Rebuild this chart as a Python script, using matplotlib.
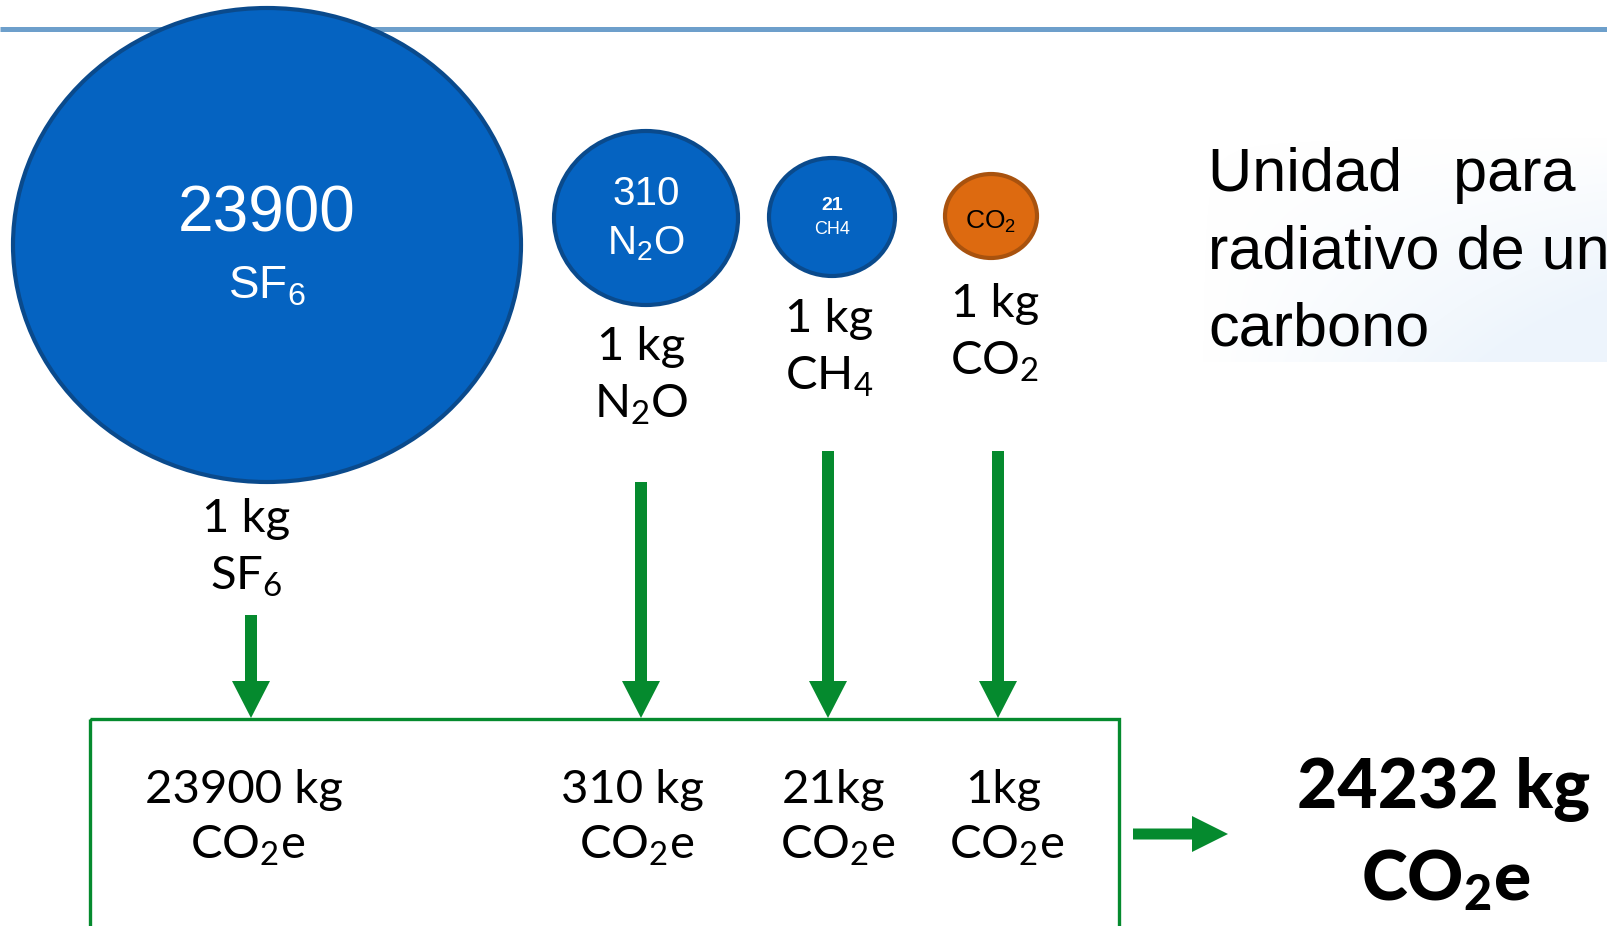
import matplotlib
matplotlib.use("Agg")
import matplotlib.pyplot as plt
from matplotlib.patches import Ellipse, Rectangle
import numpy as np

# ---------------- data ----------------
gases = ["SF$\\mathregular{_6}$", "N$\\mathregular{_2}$O", "CH$\\mathregular{_4}$", "CO$\\mathregular{_2}$"]
inner_gas = ["SF$\\mathregular{_6}$", "N$\\mathregular{_2}$O", "CH4", "CO$\\mathregular{_2}$"]
gwp = [23900, 310, 21, 1]
mass_kg = [1, 1, 1, 1]
co2e_labels = ["23900 kg", "310 kg", "21kg", "1kg"]
side_text = ["Unidad   para", "radiativo de un", "carbono"]

total = sum(g * m for g, m in zip(gwp, mass_kg))

# ---------------- layout (pixels) ----------------
W, H = 1608, 926
circ_cx = [267, 646, 832, 991]
circ_cy = [245, 218, 217, 216]
circ_rx = [254, 92, 63, 46]
circ_ry = [237, 87, 59, 42]
circ_fc = ["#0563c1", "#0563c1", "#0563c1", "#dd6a10"]
circ_ec = ["#0a4a8c", "#0a4a8c", "#0a4a8c", "#a8520e"]
num_y = [214, 194, 205, 220]
num_fs = [46, 29, 14, 0]
gas_y = [286, 244, 230, 222]
gas_fs = [33, 29, 13, 19]
gas_color = ["white", "white", "white", "black"]

kg_x = [246, 641, 829, 995]
kg_y = [523, 351, 323, 308]
arrow_x = [251, 641, 828, 998]
arrow_y0 = [615, 482, 451, 451]
box_text_x = [244, 633, 834, 1003]

green = "#058a2e"
lab_font = "Lato"
circ_font = "Liberation Sans"
LFS = 34

fig = plt.figure(figsize=(W / 100, H / 100), dpi=100)
ax = fig.add_axes([0, 0, 1, 1])
ax.set_xlim(0, W)
ax.set_ylim(H, 0)
ax.axis("off")

# faint gradient panel behind side text
grad = np.linspace(0, 1, 200)
gx, gy = np.meshgrid(grad, np.linspace(0, 1, 60))
alpha = np.clip(gx * gy * 1.4, 0, 1) * 0.5
img = np.zeros((60, 200, 4))
img[..., 0] = 0.86
img[..., 1] = 0.92
img[..., 2] = 0.98
img[..., 3] = alpha
ax.imshow(img, extent=[1200, W, 362, 135], zorder=0, aspect="auto", interpolation="bilinear")

# top rule
ax.plot([0, W], [29, 29], color="#6d9fcb", lw=3.6, zorder=1, solid_capstyle="butt")

# circles
for i in range(4):
    e = Ellipse((circ_cx[i], circ_cy[i]), 2 * circ_rx[i], 2 * circ_ry[i],
                facecolor=circ_fc[i], edgecolor=circ_ec[i], lw=3, zorder=2)
    ax.add_patch(e)
    if num_fs[i] > 0:
        ax.text(circ_cx[i], num_y[i], str(gwp[i]), color="white", fontsize=num_fs[i],
                ha="center", va="center", family=circ_font, zorder=3,
                fontweight="bold" if num_fs[i] < 20 else "normal")
    ax.text(circ_cx[i], gas_y[i], inner_gas[i], color=gas_color[i], fontsize=gas_fs[i],
            ha="center", va="center", family=circ_font, zorder=3)

# "1 kg / gas" labels
for i in range(4):
    ax.text(kg_x[i], kg_y[i] - 4, f"{mass_kg[i]} kg", fontsize=LFS, ha="center", va="center",
            family=lab_font, color="black", zorder=3)
    ax.text(kg_x[i], kg_y[i] + 54, gases[i], fontsize=LFS, ha="center", va="center",
            family=lab_font, color="black", zorder=3)

# down arrows
for i in range(4):
    ax.arrow(arrow_x[i], arrow_y0[i], 0, 718 - arrow_y0[i], width=12, head_width=38,
             head_length=37, length_includes_head=True, color=green, zorder=3, lw=0)

# result box (bottom runs off the canvas)
ax.add_patch(Rectangle((90, 719), 1119 - 90, 240, fill=False, edgecolor=green, lw=2.4, zorder=3))
for i in range(4):
    ax.text(box_text_x[i], 790, co2e_labels[i], fontsize=LFS, ha="center", va="center",
            family=lab_font, zorder=3)
    ax.text(box_text_x[i] + 4, 846, "CO$\\mathregular{_2}$e", fontsize=LFS, ha="center", va="center",
            family=lab_font, zorder=3)

# right arrow
ax.arrow(1133, 834, 1228 - 1133, 0, width=11, head_width=36, head_length=36,
         length_includes_head=True, color=green, zorder=3, lw=0)

# total
ax.text(1444, 790, f"{total} kg", fontsize=50, fontweight="black", ha="center", va="center",
        family=lab_font, zorder=3)
ax.text(1446, 880, "CO$\\mathregular{_2}$e", fontsize=50, fontweight="black", ha="center", va="center",
        family=lab_font, zorder=3)

# side text
for j, s in enumerate(side_text):
    ax.text(1208, 176 + j * 77, s, fontsize=44, ha="left", va="center",
            family=circ_font, color="black", zorder=3)

fig.savefig("out.png", dpi=100)
